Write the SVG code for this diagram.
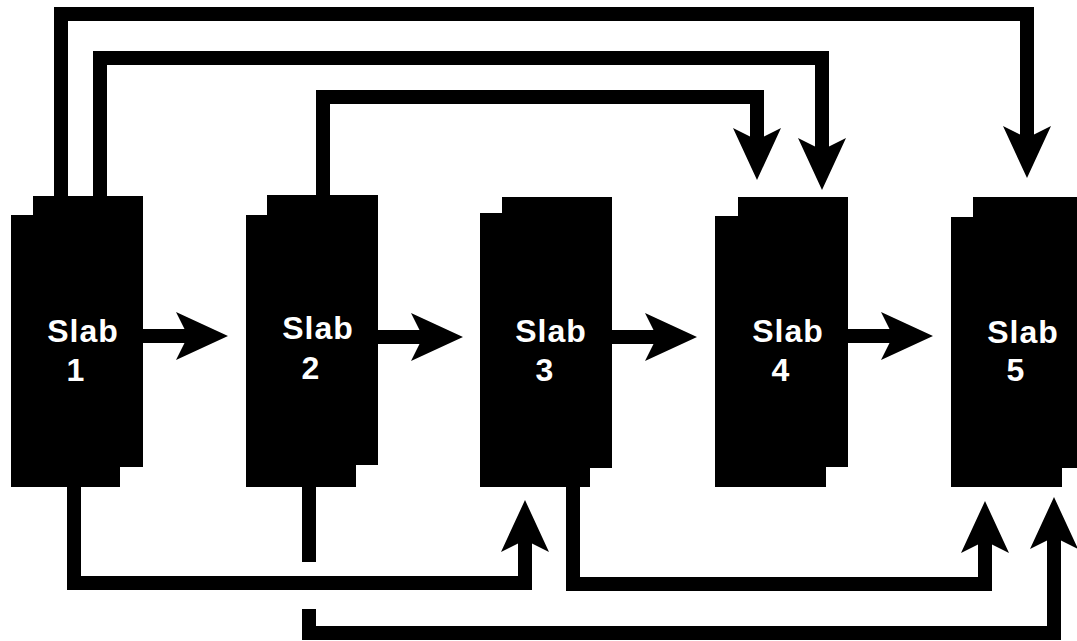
<svg xmlns="http://www.w3.org/2000/svg" width="1077" height="641" viewBox="0 0 1077 641">
<style>
.slab{fill:#000;}
.lbl{fill:#fff;font-family:"Liberation Sans",Arial,sans-serif;font-weight:bold;font-size:32px;letter-spacing:1px;text-anchor:middle;}
.conn{fill:none;stroke:#000;stroke-width:14;stroke-linejoin:miter;stroke-linecap:butt;}
</style>
<defs>
<marker id="ah" markerUnits="userSpaceOnUse" markerWidth="52" markerHeight="48" viewBox="0 0 52 48" refX="12" refY="24" orient="auto">
<path d="M0,0 L52,24 L0,48 L12,24 Z" fill="#000"/>
</marker>
</defs>
<rect width="1077" height="641" fill="#fff"/>
<g id="connectors">
<path class="conn" d="M61,200 V14 H1027 V138" marker-end="url(#ah)"/>
<path class="conn" d="M100,200 V58 H822 V150" marker-end="url(#ah)"/>
<path class="conn" d="M323,200 V97 H757 V140" marker-end="url(#ah)"/>
<path class="conn" d="M140,336 H188" marker-end="url(#ah)"/>
<path class="conn" d="M375,337 H423" marker-end="url(#ah)"/>
<path class="conn" d="M609,337 H657" marker-end="url(#ah)"/>
<path class="conn" d="M845,336 H893" marker-end="url(#ah)"/>
<path class="conn" d="M74,484 V583 H525 V540" marker-end="url(#ah)"/>
<path class="conn" d="M573,484 V584 H985 V541" marker-end="url(#ah)"/>
<path class="conn" d="M309,484 V562"/>
<path class="conn" d="M309,609 V633 H1054 V537" marker-end="url(#ah)"/>
</g>
<g id="slab1">
<path class="slab" d="M33,196 H143 V467 H120 V487 H11 V215 H33 Z"/>
<text class="lbl" x="83" y="342">Slab</text>
<text class="lbl" x="76" y="381">1</text>
</g>
<g id="slab2">
<path class="slab" d="M267,195 H378 V465 H356 V487 H246 V215 H267 Z"/>
<text class="lbl" x="318" y="339">Slab</text>
<text class="lbl" x="311" y="379">2</text>
</g>
<g id="slab3">
<path class="slab" d="M502,197 H612 V468 H590 V487 H480 V213 H502 Z"/>
<text class="lbl" x="551" y="342">Slab</text>
<text class="lbl" x="545" y="381">3</text>
</g>
<g id="slab4">
<path class="slab" d="M738,197 H848 V467 H826 V487 H715 V216 H738 Z"/>
<text class="lbl" x="788" y="342">Slab</text>
<text class="lbl" x="781" y="381">4</text>
</g>
<g id="slab5">
<path class="slab" d="M973,197 H1083 V468 H1062 V487 H951 V217 H973 Z"/>
<text class="lbl" x="1023" y="343">Slab</text>
<text class="lbl" x="1016" y="381">5</text>
</g>
</svg>
